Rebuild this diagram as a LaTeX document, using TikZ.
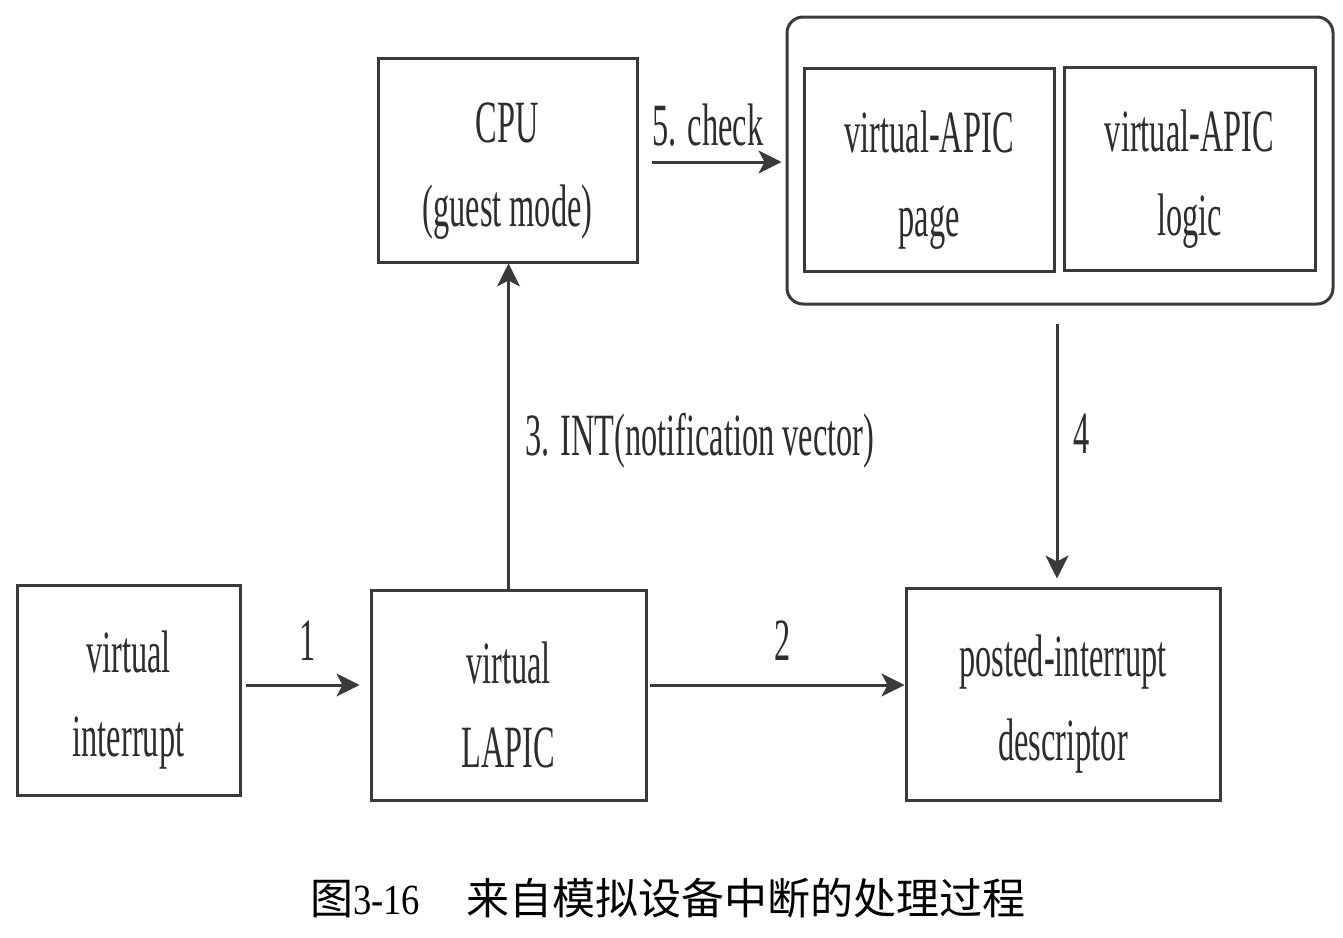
\documentclass[tikz,border=0pt]{standalone}
\usepackage{fontspec}
\setmainfont{Liberation Serif}
\newfontfamily\cjk{Noto Sans CJK SC}
\usetikzlibrary{arrows.meta,calc}
\definecolor{lc}{RGB}{58,58,58}
\definecolor{tc}{RGB}{45,45,45}
\newcommand{\nt}[1]{\scalebox{0.54}[1]{#1}}
\newcommand{\ntf}[1]{\rule{0pt}{62pt}\scalebox{0.54}[1]{#1}}
\begin{document}
\begin{tikzpicture}[x=1pt,y=-1pt,
  box/.style={draw=lc, line width=3pt, rectangle, inner sep=0pt, align=center,
    text=tc, font=\fontsize{60}{84}\selectfont},
  lbl/.style={text=tc, inner sep=0pt, font=\fontsize{60}{84}\selectfont},
  arr/.style={draw=lc, line width=3pt, -{Stealth[length=23pt,width=23pt,inset=6pt]}}]
\useasboundingbox (0,0) rectangle (1343,937);
% boxes
\node[box, minimum width=259pt, minimum height=204pt] (cpu) at (507.5,160) {\ntf{CPU}\\\nt{(guest mode)}};
\node[box, rounded corners=16pt, minimum width=546pt, minimum height=287pt] (outer) at (1060,160.5) {};
\node[box, minimum width=250pt, minimum height=203pt] (page) at (929,169.5) {\ntf{virtual-APIC}\\\nt{page}};
\node[box, minimum width=251pt, minimum height=203pt] (logic) at (1189.5,168.5) {\ntf{virtual-APIC}\\\nt{logic}};
\node[box, minimum width=223pt, minimum height=210pt] (vi) at (128.5,690) {\ntf{virtual}\\\nt{interrupt}};
\node[box, minimum width=275pt, minimum height=210pt] (lapic) at (508.5,695) {\ntf{virtual}\\\nt{LAPIC}};
\node[box, minimum width=314pt, minimum height=212pt] (pid) at (1063,694) {\ntf{posted-interrupt}\\\nt{descriptor}};
% connectors
\draw[arr, shorten <=4pt, shorten >=10pt] ([yshift=5pt]vi.east) -- ([yshift=5pt]vi.east -| lapic.west);
\draw[arr, shorten <=2pt] ([yshift=10pt]lapic.east) -- ([yshift=10pt]lapic.east -| pid.west);
\draw[arr] (lapic.north) -- (lapic.north |- cpu.south);
\draw[arr, shorten <=18pt, shorten >=8pt] ([xshift=-3pt]outer.south) -- ([xshift=-3pt]outer.south |- pid.north);
\draw[arr, shorten <=13pt, shorten >=4pt] ([yshift=-2pt]cpu.east) -- ([yshift=-2pt]cpu.east -| outer.west);
% labels
\node[lbl, anchor=base] (l5) at (708,145) {\nt{5. check}};
\node[lbl, anchor=base] (l1) at (308,660) {\nt{1}};
\node[lbl, anchor=base] (l2) at (783,660) {\nt{2}};
\node[lbl, anchor=base west] (l3) at (525,455) {\nt{3. INT(notification vector)}};
\node[lbl, anchor=base] (l4) at (1082,453) {\nt{4}};
% caption
\node[anchor=base west, inner sep=0pt, text=black, font=\fontsize{43}{50}\selectfont] (cap) at (310,914)
  {{\cjk 图}\scalebox{0.85}[1]{3-16}\hspace{46pt}{\cjk 来自模拟设备中断的处理过程}};
\end{tikzpicture}
\end{document}
